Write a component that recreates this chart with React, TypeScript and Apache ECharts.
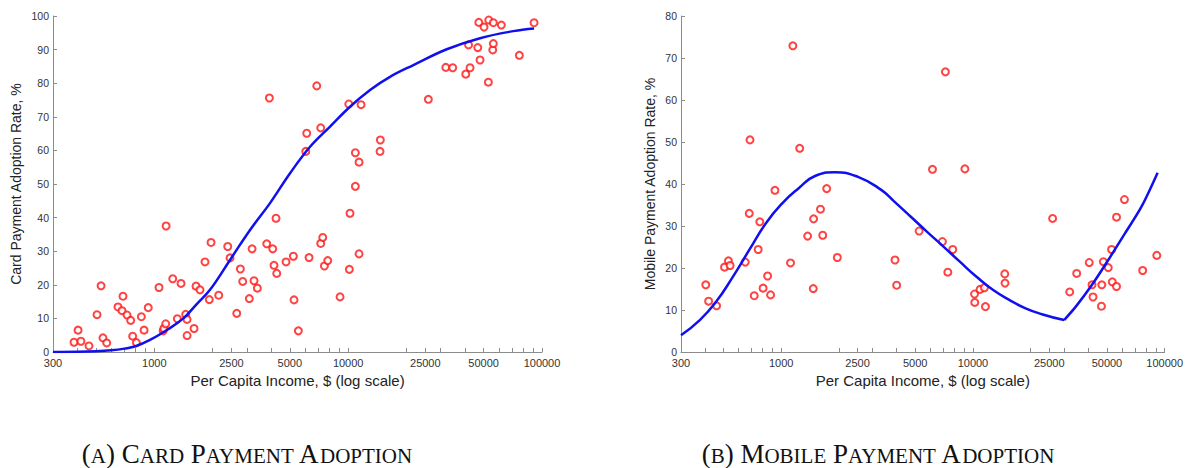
import React, { useEffect, useRef } from "react";
import * as echarts from "echarts";

// ---- axis ticks ----
const xTickLabels = [300, 1000, 2500, 5000, 10000, 25000, 50000, 100000];
const xMinorTicks = [400, 500, 600, 700, 800, 900, 2000, 3000, 4000, 6000, 7000, 8000, 9000, 20000, 30000, 40000, 60000, 70000, 80000, 90000];

// ---- (A) card payment adoption ----
const cardIncome = [385, 404, 418, 460, 506, 531, 543, 568, 649, 681, 689, 723, 755, 773, 808, 857, 885, 930, 1057, 1110, 1120, 1145, 1150, 1244, 1314, 1373, 1451, 1475, 1475, 1602, 1641, 1720, 1825, 1921, 1961, 2148, 2391, 2457, 2661, 2778, 2857, 3090, 3193, 3268, 3400, 3800, 3921, 4081, 4143, 4244, 4280, 4780, 5214, 5255, 5533, 6041, 6111, 6282, 6885, 7218, 7218, 7393, 7540, 7846, 9080, 10070, 10140, 10220, 10890, 10890, 11380, 11380, 11650, 14600, 14655, 25920, 31890, 34620, 40420, 41800, 42540, 46620, 47200, 47900, 50240, 52870, 53100, 55700, 56100, 56100, 61700, 76400, 91000];
const cardRate = [2.9, 6.5, 3.2, 1.8, 11.1, 19.7, 4.2, 2.7, 13.4, 12.3, 16.6, 11.0, 9.4, 4.7, 2.8, 10.5, 6.5, 13.2, 19.2, 6.3, 7.0, 8.4, 37.5, 21.8, 9.9, 20.4, 11.2, 9.7, 4.9, 7.0, 19.6, 18.5, 26.8, 15.6, 32.6, 16.9, 31.4, 28.0, 11.5, 24.7, 21.0, 15.9, 30.7, 21.2, 19.0, 32.2, 75.6, 30.7, 25.8, 39.8, 23.4, 26.8, 28.5, 15.5, 6.3, 59.7, 65.1, 28.1, 79.2, 66.7, 32.3, 34.1, 25.6, 27.2, 16.4, 73.8, 24.6, 41.3, 49.3, 59.3, 56.5, 29.2, 73.6, 59.7, 63.1, 75.2, 84.7, 84.6, 82.7, 91.4, 84.6, 90.6, 98.1, 86.9, 96.7, 80.3, 98.8, 89.9, 91.8, 98.0, 97.3, 88.3, 98.0];
const cardFitIncome = [300, 400, 500, 600, 700, 800, 950, 1150, 1411, 1650, 1937, 2457, 3117, 3952, 5013, 6358, 8064, 10220, 12970, 16440, 21700, 32260, 47900, 71170, 91000];
const cardFitRate = [0, 0.05, 0.2, 0.5, 1.0, 1.7, 3.6, 6.4, 10.0, 14.2, 18.5, 27.4, 36.3, 44.3, 53.2, 61.1, 67.1, 73.0, 78.0, 81.9, 85.4, 90.1, 93.4, 95.5, 96.3];

// ---- (B) mobile payment adoption ----
const mobileIncome = [404, 418, 460, 506, 530, 541, 649, 681, 687, 723, 758, 773, 804, 849, 880, 927, 1118, 1150, 1248, 1373, 1469, 1475, 1602, 1646, 1726, 1961, 3920, 4000, 5238, 6152, 6930, 7183, 7395, 7846, 9078, 10190, 10220, 10890, 11475, 11620, 14655, 14700, 26040, 31980, 34770, 40420, 41800, 42300, 46800, 47000, 47900, 50800, 52870, 53300, 56100, 56100, 61700, 76800, 91000];
const mobileRate = [16.0, 12.1, 11.0, 20.2, 21.7, 20.6, 21.4, 33.0, 50.5, 13.4, 24.4, 31.0, 15.2, 18.1, 13.6, 38.5, 21.2, 72.9, 48.5, 27.6, 15.1, 31.7, 34.0, 27.8, 38.9, 22.5, 21.9, 15.9, 28.8, 43.5, 26.3, 66.7, 19.0, 24.4, 43.6, 13.8, 11.8, 14.9, 15.3, 10.8, 18.6, 16.4, 31.8, 14.3, 18.7, 21.3, 16.0, 13.1, 10.9, 16.0, 21.5, 20.1, 24.4, 16.7, 15.6, 32.1, 36.3, 19.4, 23.0];
const mobileFitIncome = [300, 376, 458, 559, 681, 830, 1012, 1233, 1500, 1908, 2514, 3323, 3891, 4743, 5768, 7015, 8543, 10440, 12700, 15460, 18820, 22900, 29900, 34400, 41800, 50800, 62200, 75700, 91900];
const mobileFitRate = [4.0, 7.6, 12.0, 17.9, 24.3, 30.6, 35.4, 39.0, 41.9, 42.8, 41.7, 38.6, 35.8, 32.2, 28.6, 25.1, 21.5, 17.9, 14.8, 12.4, 10.4, 9.0, 7.6, 10.8, 16.0, 21.9, 28.3, 34.6, 42.7];
// index of the fitted curve's kink (minimum) in the mobile panel
const mobileKink = 22;

// ---- captions (small caps: [text, isCapital]) ----
const captionA: [string, boolean][] = [["(", true], ["A", false], [") C", true], ["ARD", false], [" P", true], ["AYMENT", false], [" A", true], ["DOPTION", false]];
const captionB: [string, boolean][] = [["(", true], ["B", false], [") M", true], ["OBILE", false], [" P", true], ["AYMENT", false], [" A", true], ["DOPTION", false]];

const zip = (xs: number[], ys: number[]) => xs.map((x, i) => [x, ys[i]]);

const axisColor = "#8c8c8c";
const labelFont = "Liberation Sans";
const serifFont = "Liberation Serif";
const xTickValues = [...xTickLabels, ...xMinorTicks].sort((a, b) => a - b);

function makeX(gridIndex: number) {
  return {
    type: "log",
    logBase: 10,
    gridIndex,
    min: 300,
    max: 100000,
    name: "Per Capita Income, $ (log scale)",
    nameLocation: "middle",
    nameGap: 17,
    nameTextStyle: { fontFamily: labelFont, fontSize: 15, color: "#222" },
    axisLine: { show: true, lineStyle: { color: axisColor, width: 1 } },
    axisTick: { show: true, inside: true, length: 4, customValues: xTickValues, lineStyle: { color: axisColor } },
    axisLabel: {
      customValues: xTickLabels,
      formatter: (v: number) => String(Math.round(v)),
      fontFamily: labelFont,
      fontSize: 11,
      color: "#333",
      margin: 5,
    },
    splitLine: { show: false },
    minorTick: { show: false },
    minorSplitLine: { show: false },
  };
}

function makeY(gridIndex: number, max: number, name: string, gap: number) {
  return {
    type: "value",
    gridIndex,
    min: 0,
    max,
    interval: 10,
    name,
    nameLocation: "middle",
    nameGap: gap,
    nameTextStyle: { fontFamily: labelFont, fontSize: 14, color: "#222" },
    axisLine: { show: true, lineStyle: { color: axisColor, width: 1 } },
    axisTick: { show: true, inside: true, length: 4, lineStyle: { color: axisColor } },
    axisLabel: { fontFamily: labelFont, fontSize: 10.5, color: "#333", margin: 4 },
    splitLine: { show: false },
  };
}

function scatter(idx: number, data: number[][]) {
  return {
    type: "scatter",
    xAxisIndex: idx,
    yAxisIndex: idx,
    data,
    symbol: "emptyCircle",
    symbolSize: 7,
    itemStyle: { color: "#ff1414", borderColor: "#ff1414", borderWidth: 1.3 },
    z: 2,
  };
}

function fit(idx: number, data: number[][], smooth: number | boolean) {
  return {
    type: "line",
    xAxisIndex: idx,
    yAxisIndex: idx,
    data,
    showSymbol: false,
    smooth,
    lineStyle: { color: "#1010ee", width: 2.5 },
    z: 3,
  };
}

const BIG = 27;
const SMALL = 21;

function captionGroup(parts: [string, boolean][], centerX: number, baseline: number) {
  const canvas = document.createElement("canvas");
  const ctx = canvas.getContext("2d");
  const widths = parts.map(([t, cap]) => {
    const fs = cap ? BIG : SMALL;
    if (!ctx) return t.length * fs * 0.6;
    ctx.font = `${fs}px "${serifFont}"`;
    return ctx.measureText(t).width;
  });
  const total = widths.reduce((a, b) => a + b, 0);
  let offset = 0;
  const children = parts.map(([t, cap], i) => {
    const fs = cap ? BIG : SMALL;
    const el = {
      type: "text",
      x: offset,
      // central baseline sits ~0.3375em above the alphabetic baseline
      y: -0.3375 * fs,
      style: {
        text: t,
        fontFamily: serifFont,
        fontSize: fs,
        fill: "#111",
        align: "left",
        verticalAlign: "middle",
      },
    };
    offset += widths[i];
    return el;
  });
  return { type: "group", x: centerX - total / 2, y: baseline, children };
}

export default function App() {
  const ref = useRef<HTMLDivElement>(null);
  useEffect(() => {
    if (!ref.current) return;
    const chart = echarts.init(ref.current, undefined, { renderer: "svg" });
    const mobileFit = zip(mobileFitIncome, mobileFitRate);
    chart.setOption({
      animation: false,
      backgroundColor: "#ffffff",
      grid: [
        { left: 53, top: 16, width: 489, height: 336 },
        { left: 681, top: 16, width: 489, height: 336 },
      ],
      xAxis: [makeX(0), makeX(1)],
      yAxis: [
        makeY(0, 100, "Card Payment Adoption Rate, %", 30),
        makeY(1, 80, "Mobile Payment Adoption Rate, %", 24),
      ],
      series: [
        scatter(0, zip(cardIncome, cardRate)),
        fit(0, zip(cardFitIncome, cardFitRate), 0.4),
        scatter(1, zip(mobileIncome, mobileRate)),
        fit(1, mobileFit.slice(0, mobileKink + 1), 0.5),
        fit(1, mobileFit.slice(mobileKink), 0.3),
      ],
      graphic: [captionGroup(captionA, 247, 463.5), captionGroup(captionB, 878, 463.5)],
    });
    return () => chart.dispose();
  }, []);
  return (
    <div
      ref={ref}
      style={{ position: "absolute", left: 0, top: 0, width: 1186, height: 468, background: "#fff" }}
    />
  );
}
